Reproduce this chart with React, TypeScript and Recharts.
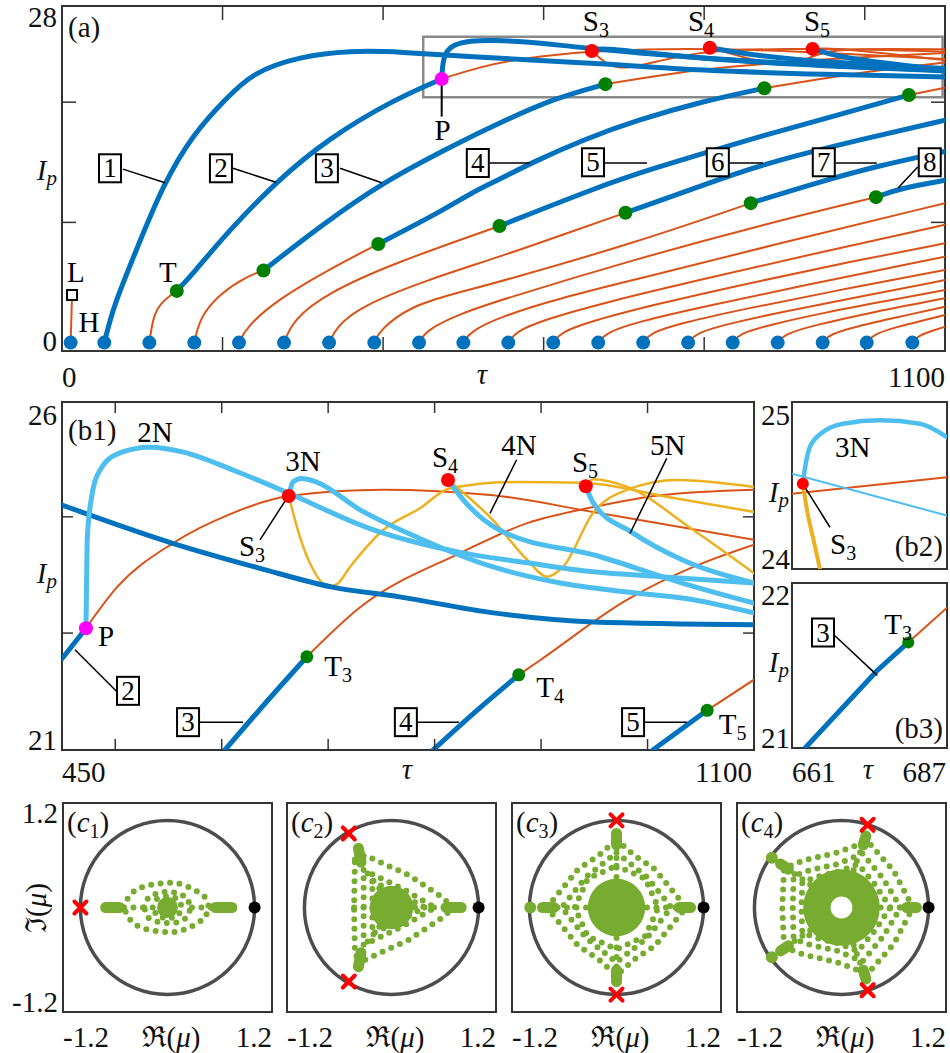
import React from "react";
import { ComposedChart, Line, Scatter, XAxis, YAxis, ReferenceArea, ReferenceDot, ReferenceLine } from "recharts";

type P = [number, number];

const BLUE = "#0072BD";
const ORANGE = "#D95319";
const YELLOW = "#EDB120";
const LBLUE = "#4DBEEE";
const GREEN = "#008000";
const LGREEN = "#77AC30";
const RED = "#FF0000";
const MAGENTA = "#FF00FF";
const AXIS = "#333333";
const FONT = '"Liberation Serif", "DejaVu Serif", serif';
const PAD = 24;

// ---------- panel (a) ----------
const hopfTau = [10.8, 52.7, 108.8, 164.8, 220.5, 276.6, 332.7, 389, 444.8, 500, 556, 612, 668, 724, 780, 835.5, 891.6, 947.6, 1002.5, 1059.3];
const lSeg: P[] = [[10.8, 0], [12.5, 3.96]];
const lSquare: P[] = [[12.5, 3.96]];

// unstable (orange) parts of the branches
const aOrange: P[][] = [
  [[108.8, 0], [114, 2.4], [126, 3.5], [143, 4.3]],
  [[164.8, 0], [172, 2.15], [197, 4.1], [230, 5.5], [251, 6.0]],
  [[220.5, 0], [230, 1.3], [267, 3.5], [330, 6.0], [394, 8.2]],
  [[276.6, 0], [288, 1.9], [330, 4.1], [413, 6.6], [545, 9.7]],
  [[332.7, 0], [342, 1.3], [371, 3.0], [454, 5.2], [546, 7.15], [629, 9.1], [702, 10.8]],
  [[389, 0], [396, 1.05], [433, 3.0], [490, 4.1], [546, 5.07], [712, 8.26], [858, 11.6]],
  [[444.8, 0], [454, 1.05], [496, 2.4], [546, 3.54], [712, 6.9], [878, 9.9], [1014, 12.1]],
  [[500, 0], [508, 0.9], [546, 2.15], [620, 3.7], [712, 5.2], [878, 8.0], [1100, 11.6]],
  [[556, 0], [565, 0.9], [600, 1.9], [680, 3.4], [800, 5.3], [950, 7.6], [1100, 9.8]],
  [[612, 0], [621, 0.85], [660, 1.8], [740, 3.2], [860, 5.0], [980, 6.7], [1100, 8.26]],
  [[668, 0], [677, 0.8], [715, 1.7], [800, 3.0], [920, 4.7], [1100, 7.15]],
  [[724, 0], [733, 0.8], [770, 1.6], [850, 2.8], [970, 4.4], [1100, 6.04]],
  [[780, 0], [789, 0.75], [825, 1.5], [900, 2.6], [1000, 3.9], [1100, 5.2]],
  [[835.5, 0], [844, 0.75], [880, 1.45], [950, 2.5], [1030, 3.5], [1100, 4.38]],
  [[891.6, 0], [900, 0.7], [935, 1.4], [1000, 2.4], [1100, 3.69]],
  [[947.6, 0], [956, 0.7], [990, 1.35], [1040, 2.1], [1100, 2.99]],
  [[1002.5, 0], [1011, 0.7], [1040, 1.3], [1070, 1.8], [1100, 2.3]],
  [[1059.3, 0], [1067, 0.6], [1085, 1.0], [1100, 1.32]],
  // upper parts inside the zoom box
  [[473, 21.93], [521, 22.95], [571, 23.65], [660, 24.26], [750, 24.45], [850, 24.4], [950, 24.1], [1100, 23.6]],
  [[677, 21.5], [750, 22.3], [820, 22.9], [950, 23.6], [1100, 24.1]],
  [[875, 21.16], [950, 22.0], [1020, 22.7], [1100, 23.3]],
  [[1055, 20.6], [1100, 21.2]],
  [[660, 24.26], [679, 23.1], [695, 22.82], [716, 22.96], [757, 23.65], [807, 24.3], [900, 24.45], [1000, 24.4], [1100, 24.2]],
  [[807, 24.53], [850, 23.7], [902, 22.85], [930, 23.7], [960, 24.4], [1030, 24.45], [1100, 24.4]],
  [[935, 24.43], [960, 24.5], [1020, 24.1], [1100, 23.5]],
];

// stable (blue) parts
const aBlue: P[][] = [
  [[52.7, 0], [64, 3.0], [89, 7.1], [126, 13.2], [164, 17.4], [203, 20.2], [238, 22.5], [296, 23.8], [359, 24.3], [421, 24.2], [508, 23.75], [654, 23.3], [799, 22.6], [950, 22.3], [1100, 22.1]],
  [[143, 4.3], [164, 5.8], [205, 9.1], [267, 13.4], [330, 16.9], [413, 20.2], [473, 21.93]],
  [[251, 6.0], [320, 9.6], [398, 13.3], [496, 16.7], [546, 18.3], [612, 20.3], [677, 21.5]],
  [[394, 8.2], [475, 11.0], [508, 12.4], [549, 13.7], [583, 14.9], [650, 16.9], [716, 18.5], [800, 20.1], [875, 21.16]],
  [[545, 9.7], [674, 13.1], [728, 14.3], [840, 16.6], [965, 18.9], [1055, 20.6]],
  [[702, 10.8], [795, 13.0], [874, 14.9], [1002, 17.0], [1100, 18.5]],
  [[858, 11.6], [940, 13.3], [1016, 14.7], [1100, 15.9]],
  [[1014, 12.1], [1042, 12.8], [1100, 13.5]],
  [[473, 21.93], [474, 23.0], [477, 24.1], [487.5, 24.8], [508, 25.12], [537, 25.17], [591, 24.98], [654, 24.48], [737, 23.98], [861, 23.37], [986, 22.95], [1100, 22.65]],
  [[660, 24.26], [672, 24.5], [700, 24.3], [800, 23.6], [950, 23.0], [1100, 22.6]],
  [[807, 24.53], [850, 24.0], [950, 23.3], [1100, 22.8]],
  [[935, 24.43], [965, 23.8], [1030, 23.2], [1100, 22.7]],
];
const aTorus: P[] = [[143, 4.3], [251, 6.0], [394, 8.2], [545, 9.7], [702, 10.8], [858, 11.6], [1014, 12.1], [677, 21.5], [875, 21.16], [1055, 20.6]];
const aSaddle: P[] = [[660, 24.26], [807, 24.53], [935, 24.43]];
const aP: P[] = [[473, 21.93]];
const zoomBox = { x1: 450, x2: 1097, y1: 20.4, y2: 25.45 };

// ---------- panel (b1) ----------
const b1Orange: P[][] = [
  [[472.5, 22.75], [501.7, 23.34], [554, 23.97], [608, 24.39], [663, 24.65], [751.5, 24.74], [855, 24.66], [949, 24.42], [1100, 24.02]],
  [[680, 22.34], [730, 23.05], [824, 23.83], [887, 24.26], [949, 24.49], [1012, 24.66], [1100, 24.74]],
  [[879, 22.08], [899, 22.29], [981, 23.16], [1043, 23.63], [1100, 23.95]],
  [[1056, 21.57], [1100, 22.01]],
];
const b1Yellow: P[][] = [
  [[663, 24.65], [673.5, 24.06], [686, 23.59], [700, 23.35], [708, 23.38], [720.5, 23.63], [751.8, 24.16], [786, 24.47], [814.5, 24.76], [877, 24.85], [939, 24.84], [1018, 24.64], [1100, 24.42]],
  [[812.6, 24.88], [855, 24.3], [887, 23.73], [905.6, 23.49], [920.6, 23.63], [949, 24.41], [981, 24.74], [1028, 24.88], [1100, 24.78]],
  [[942, 24.79], [949, 24.89], [981, 24.78], [1043, 24.16], [1100, 23.54]],
];
const b1Blue: P[][] = [
  [[450, 24.52], [554, 23.97], [636, 23.61], [704, 23.34], [767, 23.2], [855, 22.97], [949, 22.84], [1100, 22.8]],
  [[450, 22.31], [472.5, 22.75]],
  [[603, 21.0], [642, 21.69], [680, 22.34]],
  [[798.5, 21.0], [839, 21.56], [879, 22.08]],
  [[1005, 21.0], [1056, 21.57]],
];
const b1Light: P[][] = [
  [[472.5, 22.75], [473, 23.3], [473.8, 24.06], [477.9, 24.64], [485.7, 25.02], [504.5, 25.27], [532.7, 25.35], [564, 25.28], [611, 25.02], [663, 24.69], [736, 24.2], [824, 23.84], [887, 23.69], [949, 23.56], [1012, 23.49], [1100, 23.4]],
  [[663, 24.65], [667, 24.85], [675, 24.9], [689, 24.85], [730, 24.45], [786, 24.04], [855, 23.63], [918, 23.4], [981, 23.27], [1043, 23.16], [1100, 22.97]],
  [[812.6, 24.88], [830, 24.54], [861, 24.16], [955, 23.78], [1034, 23.39], [1100, 23.11]],
  [[942, 24.79], [949, 24.55], [986, 24.12], [1033, 23.73], [1100, 23.4]],
];
const b1P: P[] = [[472.5, 22.75]];
const b1Saddle: P[] = [[663, 24.65], [812.6, 24.88], [942, 24.79]];
const b1Torus: P[] = [[680, 22.34], [879, 22.08], [1056, 21.57]];

// ---------- panel (b2) ----------
const b2Light3N: P[] = [[662.8, 24.51], [663.4, 24.61], [664.6, 24.73], [668, 24.82], [673.2, 24.87], [682.7, 24.89], [693, 24.87], [700, 24.79]];
const b2Light2N: P[] = [[660, 24.57], [700, 24.32]];
const b2Orange: P[] = [[660, 24.45], [700, 24.55]];
const b2Yellow: P[] = [[662.8, 24.51], [663.9, 24.35], [665.4, 24.19], [667.2, 24.0]];
const b2Saddle: P[] = [[662.8, 24.51]];

// ---------- panel (b3) ----------
const b3Blue: P[] = [[663.2, 21.0], [675.3, 21.47], [680.5, 21.64]];
const b3Orange: P[] = [[680.5, 21.64], [687, 21.85]];
const b3Torus: P[] = [[680.5, 21.64]];

// ---------- panels (c1)-(c4): Floquet multipliers ----------
const c1Rings: P[][] = [
  [[-0.5, 0], [-0.45, 0.12], [-0.37, 0.2], [-0.26, 0.245], [-0.14, 0.27], [0, 0.285], [0.11, 0.28], [0.22, 0.245], [0.33, 0.19], [0.43, 0.12], [0.48, 0], [0.43, -0.12], [0.33, -0.19], [0.22, -0.245], [0.11, -0.28], [0, -0.285], [-0.14, -0.27], [-0.26, -0.245], [-0.37, -0.2], [-0.45, -0.12]],
  [[-0.27, 0], [-0.22, 0.12], [-0.1, 0.17], [0, 0.18], [0.11, 0.17], [0.22, 0.12], [0.27, 0], [0.22, -0.12], [0.11, -0.17], [0, -0.18], [-0.1, -0.17], [-0.22, -0.12]],
  [[-0.17, 0], [-0.12, 0.1], [0, 0.13], [0.12, 0.1], [0.17, 0], [0.12, -0.1], [0, -0.13], [-0.12, -0.1]],
];
const c1Spokes: P[][] = [[[-0.5, 0], [-0.28, 0]], [[0.28, 0], [0.5, 0]]];
const c1Blobs: P[][] = [[[-0.71, 0], [-0.55, 0]], [[0.55, 0], [0.74, 0]]];
const c1Cross: P[] = [[-1, 0]];

const c2Rings: P[][] = [
  [[-0.42, 0.55], [-0.3, 0.6], [0.2, 0.37], [0.55, 0.14], [0.72, 0], [0.55, -0.14], [0.2, -0.37], [-0.3, -0.6], [-0.42, -0.55], [-0.43, 0]],
  [[-0.32, 0.43], [0.12, 0.22], [0.5, 0], [0.12, -0.22], [-0.32, -0.43], [-0.32, 0]],
  [[-0.22, 0.3], [0.1, 0.15], [0.38, 0], [0.1, -0.15], [-0.22, -0.3], [-0.22, 0]],
];
const c2Spokes: P[][] = [[[0.27, 0], [0.6, 0]], [[-0.43, 0], [-0.26, 0]], [[-0.14, 0.22], [-0.32, 0.45]], [[-0.14, -0.22], [-0.32, -0.45]]];
const c2Blobs: P[][] = [[[-0.38, 0.68], [-0.35, 0.52]], [[-0.38, -0.68], [-0.35, -0.52]], [[0.63, 0], [0.8, 0]]];
const c2Cross: P[] = [[-0.49, 0.85], [-0.49, -0.85]];

const c3Rings: P[][] = [
  [[0, 0.78], [0.2, 0.6], [0.44, 0.44], [0.62, 0.22], [0.8, 0], [0.62, -0.22], [0.44, -0.44], [0.2, -0.6], [0, -0.78], [-0.2, -0.6], [-0.44, -0.44], [-0.62, -0.22], [-0.8, 0], [-0.62, 0.22], [-0.44, 0.44], [-0.2, 0.6]],
  [[0, 0.63], [0.35, 0.35], [0.63, 0], [0.35, -0.35], [0, -0.63], [-0.35, -0.35], [-0.63, 0], [-0.35, 0.35]],
  [[0, 0.48], [0.33, 0.33], [0.48, 0], [0.33, -0.33], [0, -0.48], [-0.33, -0.33], [-0.48, 0], [-0.33, 0.33]],
];
const c3Spokes: P[][] = [[[0, 0.35], [0, 0.7]], [[0, -0.35], [0, -0.7]], [[0.35, 0], [0.7, 0]], [[-0.35, 0], [-0.7, 0]]];
const c3Blobs: P[][] = [[[0, 0.85], [0, 0.72]], [[0, -0.85], [0, -0.72]], [[-0.85, 0], [-0.72, 0]], [[0.85, 0], [0.72, 0]]];
const c3Cross: P[] = [[0, 1], [0, -1]];
const c3Big: P[] = [[-0.99, 0]];

const c4Rings: P[][] = [
  [[0.82, 0], [0.6, 0.42], [0.3, 0.76], [-0.05, 0.63], [-0.44, 0.54], [-0.66, 0.45], [-0.68, 0], [-0.66, -0.45], [-0.44, -0.54], [-0.05, -0.63], [0.3, -0.76], [0.6, -0.42]],
  [[0.68, 0], [0.48, 0.33], [0.24, 0.62], [-0.04, 0.5], [-0.36, 0.43], [-0.55, 0.36], [-0.56, 0], [-0.55, -0.36], [-0.36, -0.43], [-0.04, -0.5], [0.24, -0.62], [0.48, -0.33]],
  [[0.56, 0], [0.38, 0.27], [0.19, 0.5], [-0.04, 0.41], [-0.29, 0.35], [-0.45, 0.29], [-0.46, 0], [-0.45, -0.29], [-0.29, -0.35], [-0.04, -0.41], [0.19, -0.5], [0.38, -0.27]],
];
const c4Spokes: P[][] = [[[0.45, 0], [0.74, 0]], [[0.14, 0.43], [0.24, 0.71]], [[0.14, -0.43], [0.24, -0.71]], [[-0.36, 0.26], [-0.6, 0.43]], [[-0.36, -0.26], [-0.6, -0.43]]];
const c4Blobs: P[][] = [[[0.86, 0], [0.75, 0]], [[0.28, 0.82], [0.25, 0.72]], [[0.28, -0.82], [0.25, -0.72]], [[-0.7, 0.5], [-0.61, 0.44]], [[-0.7, -0.5], [-0.61, -0.44]]];
const c4Cross: P[] = [[0.3, 0.95], [0.3, -0.95]];
const c4Big: P[] = [[-0.8, 0.57], [-0.8, -0.57]];

const cDisk = [0.12, 0.25, 0.33, 0];
const cDonut = [0.44, 0.125];
const unitCircle: P[] = [[0, 0]];
const trivial: P[] = [[1, 0]];

// ---------- helpers ----------
const pts = (a: P[]) => a.map(([x, y]) => ({ x, y }));

const curve = (d: P[], color: string, w: number, k: string, type: any = "monotone", dash?: string) => (
  <Line key={k} data={pts(d)} dataKey="y" type={type} stroke={color} strokeWidth={w} dot={false} activeDot={false}
    isAnimationActive={false} strokeDasharray={dash} strokeLinecap="round" legendType="none" />
);

const disc = (fill: string, r: number) => (p: any) => <circle cx={p.cx} cy={p.cy} r={r} fill={fill} />;
const dots = (d: P[], shape: any, k: string) => (
  <Scatter key={k} data={pts(d)} dataKey="y" shape={shape} isAnimationActive={false} legendType="none" />
);

const textShape = (content: React.ReactNode, anchor = "middle", size = 29) => (p: any) => (
  <text x={p.cx} y={p.cy + 10} textAnchor={anchor} fontSize={size} fontFamily={FONT} fill="#000">{content}</text>
);
const note = (x: number, y: number, content: React.ReactNode, k: string, anchor = "middle") => (
  <ReferenceDot key={k} x={x} y={y} r={1} ifOverflow="visible" shape={textShape(content, anchor)} />
);
const Sub = (b: string, s: string) => (
  <>
    {b}
    <tspan fontSize={20} dy={6}>{s}</tspan>
  </>
);
const boxed = (x: number, y: number, n: string, k: string) => (
  <ReferenceDot key={k} x={x} y={y} r={1} ifOverflow="visible"
    shape={(p: any) => (
      <g>
        <rect x={p.cx - 11} y={p.cy - 14} width={22} height={28} fill="#fff" stroke="#000" strokeWidth={2} />
        <text x={p.cx} y={p.cy + 9} textAnchor="middle" fontSize={27} fontFamily={FONT}>{n}</text>
      </g>
    )} />
);
const leader = (a: P, b: P, k: string, w = 1.5, color = "#000") => (
  <ReferenceLine key={k} segment={[{ x: a[0], y: a[1] }, { x: b[0], y: b[1] }]} stroke={color} strokeWidth={w} ifOverflow="visible" />
);

type PanelProps = {
  left: number; top: number; w: number; h: number;
  xd: [number, number]; yd: [number, number];
  xt?: number[]; yt?: number[]; tl?: number; children?: React.ReactNode;
};

function Panel({ left, top, w, h, xd, yd, xt = [], yt = [], tl = 10, children }: PanelProps) {
  // inward tick marks on all four sides, length tl pixels converted to data units
  const ux = ((xd[1] - xd[0]) / w) * tl;
  const uy = ((yd[1] - yd[0]) / h) * tl;
  return (
    <div style={{ position: "absolute", left: left - PAD, top: top - PAD }}>
      <ComposedChart width={w + 2 * PAD} height={h + 2 * PAD} margin={{ top: PAD, right: PAD, bottom: PAD, left: PAD }}>
        <XAxis type="number" dataKey="x" domain={xd} allowDataOverflow height={0} hide />
        <YAxis type="number" dataKey="y" domain={yd} allowDataOverflow width={0} hide />
        {children}
        {xt.map((v) => leader([v, yd[0]], [v, yd[0] + uy], "xb" + v, 1.5, AXIS))}
        {xt.map((v) => leader([v, yd[1]], [v, yd[1] - uy], "xt" + v, 1.5, AXIS))}
        {yt.map((v) => leader([xd[0], v], [xd[0] + ux, v], "yl" + v, 1.5, AXIS))}
        {yt.map((v) => leader([xd[1], v], [xd[1] - ux, v], "yr" + v, 1.5, AXIS))}
        <ReferenceArea x1={xd[0]} x2={xd[1]} y1={yd[0]} y2={yd[1]} fill="none" stroke={AXIS} strokeWidth={2} ifOverflow="visible" />
      </ComposedChart>
    </div>
  );
}

const C_W = 209;
const UNIT = C_W / 2.4;

const crossShape = (p: any) => (
  <g stroke={RED} strokeWidth={4} strokeLinecap="round">
    <line x1={p.cx - 6} y1={p.cy - 6} x2={p.cx + 6} y2={p.cy + 6} />
    <line x1={p.cx - 6} y1={p.cy + 6} x2={p.cx + 6} y2={p.cy - 6} />
  </g>
);

type CProps = { left: number; rings: P[][]; spokes: P[][]; blobs: P[][]; cross: P[]; big?: P[]; disk?: number; donut?: number[]; id: string };

function CPanel({ left, rings, spokes, blobs, cross, big = [], disk = 0, donut, id }: CProps) {
  return (
    <Panel left={left} top={803} w={C_W} h={C_W} xd={[-1.2, 1.2]} yd={[-1.2, 1.2]}>
      {dots(unitCircle, (p: any) => <circle cx={p.cx} cy={p.cy} r={UNIT} fill="none" stroke="#4d4d4d" strokeWidth={3.5} />, id + "u")}
      {disk > 0 && dots(unitCircle, disc(LGREEN, disk * UNIT), id + "d")}
      {donut && dots(unitCircle, (p: any) => (
        <circle cx={p.cx} cy={p.cy} r={((donut[0] + donut[1]) / 2) * UNIT} fill="none" stroke={LGREEN} strokeWidth={(donut[0] - donut[1]) * UNIT} />
      ), id + "dn")}
      {rings.map((r, i) => curve(r, LGREEN, 6, id + "r" + i, "linearClosed", "0 9.5"))}
      {spokes.map((r, i) => curve(r, LGREEN, 6, id + "s" + i, "linear", "0 9.5"))}
      {blobs.map((r, i) => curve(r, LGREEN, 11, id + "b" + i, "linear"))}
      {dots(big, disc(LGREEN, 6), id + "big")}
      {dots(trivial, disc("#000", 6), id + "t")}
      {dots(cross, crossShape, id + "x")}
    </Panel>
  );
}

const Txt = ({ x, y, a = "start", s = 29, children, tr }: any) => (
  <text x={x} y={y} textAnchor={a} fontSize={s} fontFamily={FONT} fill="#111" transform={tr}>{children}</text>
);
const Ip = ({ x, y }: { x: number; y: number }) => (
  <Txt x={x} y={y} a="end">
    <tspan fontStyle="italic">I</tspan>
    <tspan fontStyle="italic" fontSize={21} dy={5}>p</tspan>
  </Txt>
);
const Tau = ({ x, y }: { x: number; y: number }) => <Txt x={x} y={y} a="middle"><tspan fontStyle="italic">τ</tspan></Txt>;
const CTag = ({ x, n }: { x: number; n: string }) => (
  <Txt x={x} y={832}>(<tspan fontStyle="italic">c</tspan><tspan fontSize={20} dy={6}>{n}</tspan><tspan dy={-6}>)</tspan></Txt>
);

export default function App() {
  const cLefts = [63, 287, 512, 737];
  return (
    <div style={{ position: "absolute", left: 0, top: 0, width: 950, height: 1053, background: "#fff", fontFamily: FONT }}>
      {/* (a) */}
      <Panel left={62} top={6} w={883} h={345} xd={[0, 1100]} yd={[-0.7, 28]} xt={[200, 400, 600, 800, 1000]} yt={[10, 20]} tl={14}>
        {curve(lSeg, ORANGE, 2, "lseg", "linear")}
        {aOrange.map((d, i) => curve(d, ORANGE, 2, "ao" + i, "basis"))}
        {aBlue.map((d, i) => curve(d, BLUE, 5, "ab" + i, "basis"))}
        <ReferenceArea {...zoomBox} fill="none" stroke="#8a8a8a" strokeWidth={2.5} ifOverflow="visible" />
        {dots(hopfTau.map((t) => [t, 0] as P), disc(BLUE, 7), "hopf")}
        {dots(aTorus, disc(GREEN, 7), "atorus")}
        {dots(aSaddle, disc(RED, 7), "asad")}
        {dots(aP, disc(MAGENTA, 7), "ap")}
        {dots(lSquare, (p: any) => <rect x={p.cx - 5} y={p.cy - 5} width={10} height={10} fill="#fff" stroke="#000" strokeWidth={2} />, "lsq")}
        {leader([473, 21.93], [473, 18.8], "pl", 2)}
        {note(474, 17.68, "P", "pn")}
        {note(17.4, 5.86, "L", "ln")}
        {note(33.6, 1.71, "H", "hn")}
        {note(132, 5.86, "T", "tn")}
        {note(665, 26.76, Sub("S", "3"), "s3")}
        {note(796, 26.76, Sub("S", "4"), "s4")}
        {note(940.6, 26.76, Sub("S", "5"), "s5")}
        {leader([76, 14.43], [128.3, 13.3], "l1")}
        {leader([213, 14.5], [266.6, 13.34], "l2")}
        {leader([346.3, 14.5], [398.3, 13.3], "l3")}
        {leader([533, 14.94], [583, 14.94], "l4")}
        {leader([676.5, 14.94], [728.8, 14.94], "l5")}
        {leader([832, 14.94], [873.3, 14.94], "l6")}
        {leader([964, 14.94], [1015, 14.94], "l7")}
        {leader([1066, 14.6], [1041.5, 12.86], "l8")}
        {boxed(59.8, 14.5, "1", "b1")}
        {boxed(198, 14.5, "2", "b2")}
        {boxed(330, 14.5, "3", "b3")}
        {boxed(518, 14.94, "4", "b4")}
        {boxed(661.5, 15.0, "5", "b5")}
        {boxed(817, 15.0, "6", "b6")}
        {boxed(949, 15.0, "7", "b7")}
        {boxed(1081, 15.0, "8", "b8")}
      </Panel>

      {/* (b1) */}
      <Panel left={62} top={402} w={692} h={348} xd={[450, 1100]} yd={[21, 26]} xt={[500, 600, 700, 800, 900, 1000]} yt={[22.68, 24.35]} tl={11}>
        {b1Orange.map((d, i) => curve(d, ORANGE, 2, "bo" + i))}
        {b1Yellow.map((d, i) => curve(d, YELLOW, 2.5, "by" + i))}
        {b1Blue.map((d, i) => curve(d, BLUE, 5, "bb" + i))}
        {b1Light.map((d, i) => curve(d, LBLUE, 5, "bl" + i))}
        {dots(b1P, disc(MAGENTA, 7), "b1p")}
        {dots(b1Saddle, disc(RED, 7), "b1s")}
        {dots(b1Torus, disc(GREEN, 6.5), "b1t")}
        {note(537.4, 25.57, "2N", "n2")}
        {note(676.4, 25.15, "3N", "n3")}
        {note(879.3, 25.38, "4N", "n4")}
        {note(1019, 25.38, "5N", "n5")}
        {leader([877, 25.17], [852, 24.4], "ln4")}
        {leader([1018, 25.19], [983.5, 24.11], "ln5")}
        {note(628.5, 23.93, Sub("S", "3"), "bs3")}
        {leader([661.3, 24.62], [636, 24.02], "bls3")}
        {note(809.8, 25.21, Sub("S", "4"), "bs4")}
        {note(941.3, 25.14, Sub("S", "5"), "bs5")}
        {note(491.3, 22.64, "P", "bp")}
        {leader([462.2, 22.44], [501.4, 21.84], "bl2")}
        {boxed(512, 21.85, "2", "bb2")}
        {leader([579.6, 21.4], [620, 21.4], "bl3")}
        {boxed(568.4, 21.4, "3", "bb3")}
        {note(709.3, 22.21, Sub("T", "3"), "bt3")}
        {leader([781.6, 21.4], [822.9, 21.4], "bl4")}
        {boxed(773, 21.4, "4", "bb4")}
        {note(908.4, 21.91, Sub("T", "4"), "bt4")}
        {leader([996.7, 21.4], [1037, 21.4], "bl5")}
        {boxed(986.4, 21.4, "5", "bb5")}
        {note(1080, 21.37, Sub("T", "5"), "bt5")}
      </Panel>

      {/* (b2) */}
      <Panel left={792} top={402} w={155} h={167} xd={[660, 700]} yd={[24, 25]}>
        {curve(b2Orange, ORANGE, 2, "b2o", "linear")}
        {curve(b2Light2N, LBLUE, 2, "b2l", "linear")}
        {curve(b2Yellow, YELLOW, 4, "b2y")}
        {curve(b2Light3N, LBLUE, 4.5, "b2n")}
        {dots(b2Saddle, disc(RED, 6), "b2s")}
        {note(675.7, 24.73, "3N", "b2n3")}
        {leader([662.8, 24.51], [669.8, 24.25], "b2ls")}
        {note(673.2, 24.15, Sub("S", "3"), "b2s3")}
      </Panel>

      {/* (b3) */}
      <Panel left={792} top={583} w={155} h={165} xd={[661, 687]} yd={[21, 22]}>
        {curve(b3Orange, ORANGE, 2, "b3o", "linear")}
        {curve(b3Blue, BLUE, 5, "b3b", "linear")}
        {dots(b3Torus, disc(GREEN, 6), "b3t")}
        {leader([668.2, 21.68], [675.3, 21.44], "b3l")}
        {boxed(666.2, 21.7, "3", "b3b3")}
        {note(678.8, 21.75, Sub("T", "3"), "b3t3")}
      </Panel>

      {/* (c1)-(c4) */}
      <CPanel id="c1" left={cLefts[0]} rings={c1Rings} spokes={c1Spokes} blobs={c1Blobs} cross={c1Cross} disk={cDisk[0]} />
      <CPanel id="c2" left={cLefts[1]} rings={c2Rings} spokes={c2Spokes} blobs={c2Blobs} cross={c2Cross} disk={cDisk[1]} />
      <CPanel id="c3" left={cLefts[2]} rings={c3Rings} spokes={c3Spokes} blobs={c3Blobs} cross={c3Cross} big={c3Big} disk={cDisk[2]} />
      <CPanel id="c4" left={cLefts[3]} rings={c4Rings} spokes={c4Spokes} blobs={c4Blobs} cross={c4Cross} big={c4Big} donut={cDonut} />

      {/* axis texts */}
      <svg width={950} height={1053} style={{ position: "absolute", left: 0, top: 0, pointerEvents: "none" }}>
        <Txt x={68} y={37}>(a)</Txt>
        <Txt x={57} y={27} a="end">28</Txt>
        <Txt x={57} y={351} a="end">0</Txt>
        <Ip x={57} y={180} />
        <Txt x={62} y={387}>0</Txt>
        <Tau x={482} y={384} />
        <Txt x={945} y={387} a="end">1100</Txt>

        <Txt x={68} y={440}>(b1)</Txt>
        <Txt x={57} y={425} a="end">26</Txt>
        <Txt x={57} y={750} a="end">21</Txt>
        <Ip x={57} y={583} />
        <Txt x={62} y={782}>450</Txt>
        <Tau x={407} y={779} />
        <Txt x={752} y={782} a="end">1100</Txt>

        <Txt x={790} y={425} a="end">25</Txt>
        <Txt x={790} y={569} a="end">24</Txt>
        <Ip x={789} y={502} />
        <Txt x={943} y={556} a="end">(b2)</Txt>

        <Txt x={790} y={605} a="end">22</Txt>
        <Txt x={790} y={748} a="end">21</Txt>
        <Ip x={789} y={672} />
        <Txt x={943} y={738} a="end">(b3)</Txt>
        <Txt x={792} y={782}>661</Txt>
        <Tau x={868} y={779} />
        <Txt x={946} y={782} a="end">687</Txt>

        <Txt x={58} y={823} a="end">1.2</Txt>
        <Txt x={58} y={1012} a="end">-1.2</Txt>
        <Txt x={0} y={0} a="middle" tr="translate(46,908) rotate(-90)">ℑ(<tspan fontStyle="italic">μ</tspan>)</Txt>
        {cLefts.map((l, i) => (
          <g key={"cl" + i}>
            <Txt x={l} y={1047}>-1.2</Txt>
            <Txt x={l + 108} y={1047} a="middle">ℜ(<tspan fontStyle="italic">μ</tspan>)</Txt>
            <Txt x={l + C_W} y={1047} a="end">1.2</Txt>
            <CTag x={l + 4} n={String(i + 1)} />
          </g>
        ))}
      </svg>
    </div>
  );
}
